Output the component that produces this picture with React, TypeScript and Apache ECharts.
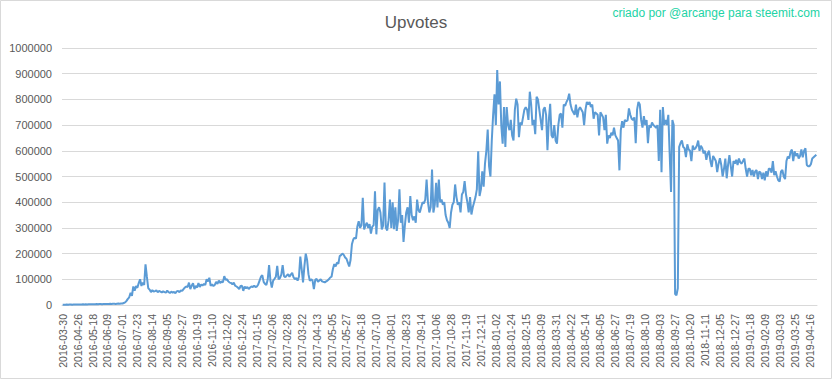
import React, { useEffect, useRef } from "react";
import * as echarts from "echarts";

// Tick labels shown on the category axis (every 11th two-day sample = 22 days)
const tickLabels: string[] = [
  "2016-03-30", "2016-04-26", "2016-05-18", "2016-06-09", "2016-07-01", "2016-07-23",
  "2016-08-14", "2016-09-05", "2016-09-27", "2016-10-19", "2016-11-10", "2016-12-02",
  "2016-12-24", "2017-01-15", "2017-02-06", "2017-02-28", "2017-03-22", "2017-04-13",
  "2017-05-05", "2017-05-27", "2017-06-18", "2017-07-10", "2017-08-01", "2017-08-23",
  "2017-09-14", "2017-10-06", "2017-10-28", "2017-11-19", "2017-12-11", "2018-01-02",
  "2018-01-24", "2018-02-15", "2018-03-09", "2018-03-31", "2018-04-22", "2018-05-14",
  "2018-06-05", "2018-06-27", "2018-07-19", "2018-08-10", "2018-09-03", "2018-09-27",
  "2018-10-20", "2018-11-11", "2018-12-05", "2018-12-27", "2019-01-18", "2019-02-09",
  "2019-03-03", "2019-03-25", "2019-04-16",
];

const upvotesK: number[] = [
  1, 1, 1, 2, 1, 2, 2, 1, 2, 2, 2,
  2, 2, 2, 2, 3, 2, 3, 2, 3, 3, 3,
  3, 3, 3, 4, 3, 4, 4, 3, 4, 4, 4,
  4, 4, 5, 4, 5, 5, 4, 5, 6, 5, 6,
  6, 8, 10, 16, 24, 30, 48, 36, 72, 56, 74,
  67, 85, 100, 74, 87, 78, 158, 110, 66, 60, 50,
  58, 52, 54, 57, 50, 55, 52, 49, 53, 50, 48,
  56, 50, 47, 52, 48, 51, 46, 53, 55, 50, 57,
  55, 62, 68, 72, 70, 87, 62, 75, 85, 62, 74,
  68, 85, 70, 80, 76, 82, 78, 100, 92, 106, 75,
  80, 74, 78, 90, 82, 95, 85, 92, 88, 112, 98,
  100, 92, 87, 86, 80, 87, 75, 72, 68, 62, 74,
  75, 55, 72, 65, 70, 62, 68, 72, 70, 75, 70,
  72, 80, 95, 110, 116, 90, 82, 78, 100, 155, 95,
  68, 95, 102, 110, 152, 100, 105, 118, 155, 112, 108,
  115, 120, 110, 118, 125, 108, 100, 105, 95, 110, 188,
  140, 88, 150, 200, 175, 120, 94, 100, 95, 62, 98,
  102, 90, 95, 100, 92, 90, 88, 92, 95, 100, 107,
  110, 140, 159, 150, 165, 160, 190, 194, 200, 195, 185,
  180, 165, 150, 175, 236, 255, 262, 258, 305, 326, 300,
  310, 417, 294, 310, 320, 300, 315, 278, 305, 310, 442,
  275, 370, 380, 360, 294, 310, 477, 300, 290, 330, 410,
  300, 400, 295, 380, 288, 330, 450, 320, 350, 245, 310,
  360, 380, 320, 424, 350, 330, 345, 320, 410, 370, 360,
  380, 400, 395, 410, 488, 400, 360, 380, 527, 360, 390,
  475, 380, 488, 400, 410, 390, 400, 350, 330, 320, 300,
  360, 390, 400, 469, 420, 390, 400, 360, 430, 440, 482,
  430, 400, 360, 420, 352, 380, 400, 420, 450, 598, 424,
  450, 520, 460, 550, 600, 683, 540, 500, 640, 740, 820,
  700, 914, 780, 870, 700, 628, 770, 615, 770, 700, 680,
  720, 660, 640, 760, 803, 780, 653, 710, 700, 730, 760,
  770, 760, 720, 830, 780, 700, 720, 665, 810, 800, 760,
  720, 680, 760, 770, 740, 602, 720, 783, 660, 650, 700,
  640, 628, 700, 740, 745, 690, 780, 775, 790, 800, 822,
  780, 760, 750, 740, 780, 730, 760, 770, 760, 750, 700,
  760, 790, 780, 790, 770, 780, 725, 750, 745, 740, 660,
  750, 740, 730, 680, 740, 628, 660, 650, 670, 660, 690,
  660, 650, 640, 524, 680, 715, 690, 720, 715, 718, 765,
  740, 725, 720, 730, 630, 760, 790, 780, 720, 690, 735,
  700, 720, 630, 700, 690, 710, 700, 695, 690, 700, 560,
  760, 517, 770, 700, 720, 700, 740, 590, 440, 720, 700,
  43, 38, 65, 615, 630, 640, 615, 610, 575, 625, 605,
  600, 560, 620, 605, 610, 620, 640, 600, 620, 610, 590,
  600, 565, 590, 600, 560, 537, 580, 570, 560, 517, 550,
  571, 545, 500, 530, 570, 493, 545, 583, 540, 500, 560,
  550, 565, 545, 570, 555, 550, 560, 570, 530, 500, 530,
  530, 505, 525, 500, 520, 525, 490, 520, 515, 490, 515,
  485, 520, 500, 530, 530, 515, 560, 505, 520, 500, 485,
  480, 520, 525, 500, 490, 560, 578, 570, 595, 605, 560,
  598, 580, 590, 570, 580, 605, 575, 600, 610, 545, 540,
  540, 548, 570, 575, 580, 585,
];

const LABEL_STEP = 11;
const FONT = "'Liberation Sans', Arial, sans-serif";

export default function App() {
  const ref = useRef<HTMLDivElement>(null);

  useEffect(() => {
    document.body.style.margin = "0";
    if (!ref.current) return;
    const chart = echarts.init(ref.current, undefined, { renderer: "svg" });
    const categories = upvotesK.map((_, i) => String(i));
    chart.setOption({
      animation: false,
      backgroundColor: "#ffffff",
      title: {
        text: "Upvotes",
        left: "center",
        top: 9,
        textStyle: { color: "#595959", fontSize: 17, fontWeight: "normal", fontFamily: FONT },
      },
      graphic: [
        {
          type: "rect",
          shape: { x: 0.5, y: 0.5, width: 831, height: 378 },
          style: { fill: "none", stroke: "#d9d9d9", lineWidth: 1 },
          silent: true,
        },
        {
          type: "text",
          right: 12,
          top: 7,
          style: {
            text: "criado por @arcange para steemit.com",
            fill: "#22d3a5",
            fontSize: 12,
            fontFamily: FONT,
          },
        },
      ],
      grid: { left: 62, right: 15, top: 48, bottom: 74, containLabel: false },
      xAxis: {
        type: "category",
        data: categories,
        boundaryGap: true,
        axisLine: { show: true, lineStyle: { color: "#d9d9d9", width: 1 } },
        axisTick: { show: false },
        splitLine: { show: false },
        axisLabel: {
          interval: LABEL_STEP - 1,
          rotate: 90,
          margin: 9,
          color: "#595959",
          fontSize: 10.5,
          fontFamily: FONT,
          hideOverlap: false,
          formatter: (_v: string, idx: number) =>
            idx % LABEL_STEP === 0 ? tickLabels[idx / LABEL_STEP] ?? "" : "",
        },
      },
      yAxis: {
        type: "value",
        min: 0,
        max: 1000000,
        interval: 100000,
        axisLine: { show: false },
        axisTick: { show: false },
        splitLine: { show: true, lineStyle: { color: "#d9d9d9", width: 1 } },
        axisLabel: {
          color: "#595959",
          fontSize: 11,
          fontFamily: FONT,
          margin: 10,
          formatter: (v: number) => String(v),
        },
      },
      series: [
        {
          type: "line",
          data: upvotesK.map((v) => v * 1000),
          showSymbol: false,
          symbol: "none",
          lineStyle: { color: "#5b9bd5", width: 2 },
          itemStyle: { color: "#5b9bd5" },
        },
      ],
    });
    return () => chart.dispose();
  }, []);

  return <div ref={ref} style={{ width: 832, height: 379 }} />;
}
